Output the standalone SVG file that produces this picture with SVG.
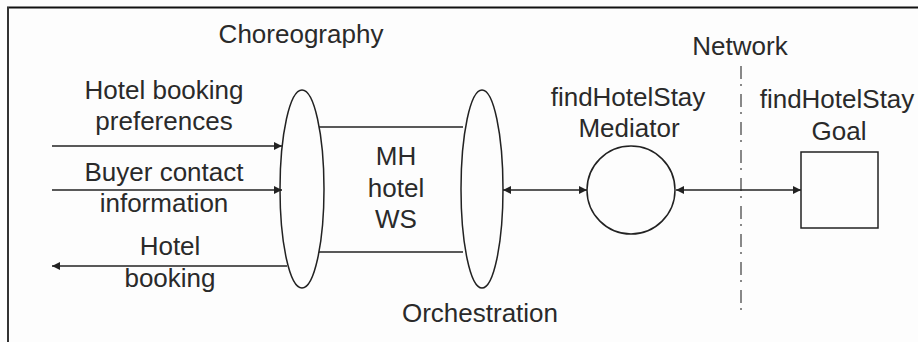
<svg xmlns="http://www.w3.org/2000/svg" width="918" height="342" viewBox="0 0 918 342">
  <style>
    .lbl { font-family: "Liberation Sans", Arial, sans-serif; font-size: 26px; fill: #2a2a2a; text-anchor: middle; }
    .shape { fill: none; stroke: #222; stroke-width: 1.5; }
    .conn { stroke: #222; stroke-width: 1.6; fill: none; }
    .net { stroke: #888; stroke-width: 2; stroke-dasharray: 13 5 2 8; fill: none; }
  </style>
  <defs>
    <marker id="arrowEnd" viewBox="0 0 10 10" refX="10" refY="5" markerWidth="5" markerHeight="5" orient="auto" markerUnits="strokeWidth">
      <path d="M0,0 L10,5 L0,10 z" fill="#222"/>
    </marker>
    <marker id="arrowStart" viewBox="0 0 10 10" refX="0" refY="5" markerWidth="5" markerHeight="5" orient="auto" markerUnits="strokeWidth">
      <path d="M10,0 L0,5 L10,10 z" fill="#222"/>
    </marker>
  </defs>

  <rect width="918" height="342" fill="#fdfdfd"/>
  <!-- frame edges (top and left) -->
  <line x1="7" y1="7.5" x2="918" y2="7.5" stroke="#111" stroke-width="2"/>
  <line x1="8" y1="7" x2="8" y2="342" stroke="#333" stroke-width="2"/>

  <text class="lbl" x="301" y="43">Choreography</text>
  <text class="lbl" x="480" y="322">Orchestration</text>
  <text class="lbl" x="740" y="55">Network</text>

  <!-- network boundary -->
  <line class="net" x1="741" y1="66" x2="741" y2="316"/>

  <g id="connectors">
    <line class="conn" x1="52" y1="146" x2="282" y2="146" marker-end="url(#arrowEnd)"/>
    <line class="conn" x1="52" y1="190" x2="282" y2="190" marker-end="url(#arrowEnd)"/>
    <line class="conn" x1="287" y1="266" x2="52" y2="266" marker-end="url(#arrowEnd)"/>
    <line class="conn" x1="503" y1="190" x2="587" y2="190" marker-start="url(#arrowStart)" marker-end="url(#arrowEnd)"/>
    <line class="conn" x1="676" y1="190" x2="801" y2="190" marker-start="url(#arrowStart)" marker-end="url(#arrowEnd)"/>
  </g>

  <g id="input-labels">
    <text class="lbl" x="164" y="99">Hotel booking</text>
    <text class="lbl" x="164" y="130">preferences</text>
    <text class="lbl" x="164" y="181">Buyer contact</text>
    <text class="lbl" x="164" y="212">information</text>
    <text class="lbl" x="170" y="255">Hotel</text>
    <text class="lbl" x="170" y="287">booking</text>
  </g>

  <g id="mh-hotel-ws">
    <line class="shape" x1="319" y1="127" x2="463" y2="127"/>
    <line class="shape" x1="319" y1="252" x2="463" y2="252" stroke="#444" stroke-width="2"/>
    <ellipse class="shape" cx="302" cy="189" rx="22" ry="99" fill="#fdfdfd"/>
    <ellipse class="shape" cx="482" cy="189" rx="21" ry="99"/>
    <text class="lbl" x="396" y="165">MH</text>
    <text class="lbl" x="396" y="197">hotel</text>
    <text class="lbl" x="396" y="228">WS</text>
  </g>

  <g id="mediator">
    <circle class="shape" cx="631" cy="190" r="44"/>
    <text class="lbl" x="628" y="106">findHotelStay</text>
    <text class="lbl" x="629" y="137">Mediator</text>
  </g>

  <g id="goal">
    <rect class="shape" x="801" y="152" width="77" height="76"/>
    <text class="lbl" x="837" y="108">findHotelStay</text>
    <text class="lbl" x="839" y="140">Goal</text>
  </g>
</svg>
